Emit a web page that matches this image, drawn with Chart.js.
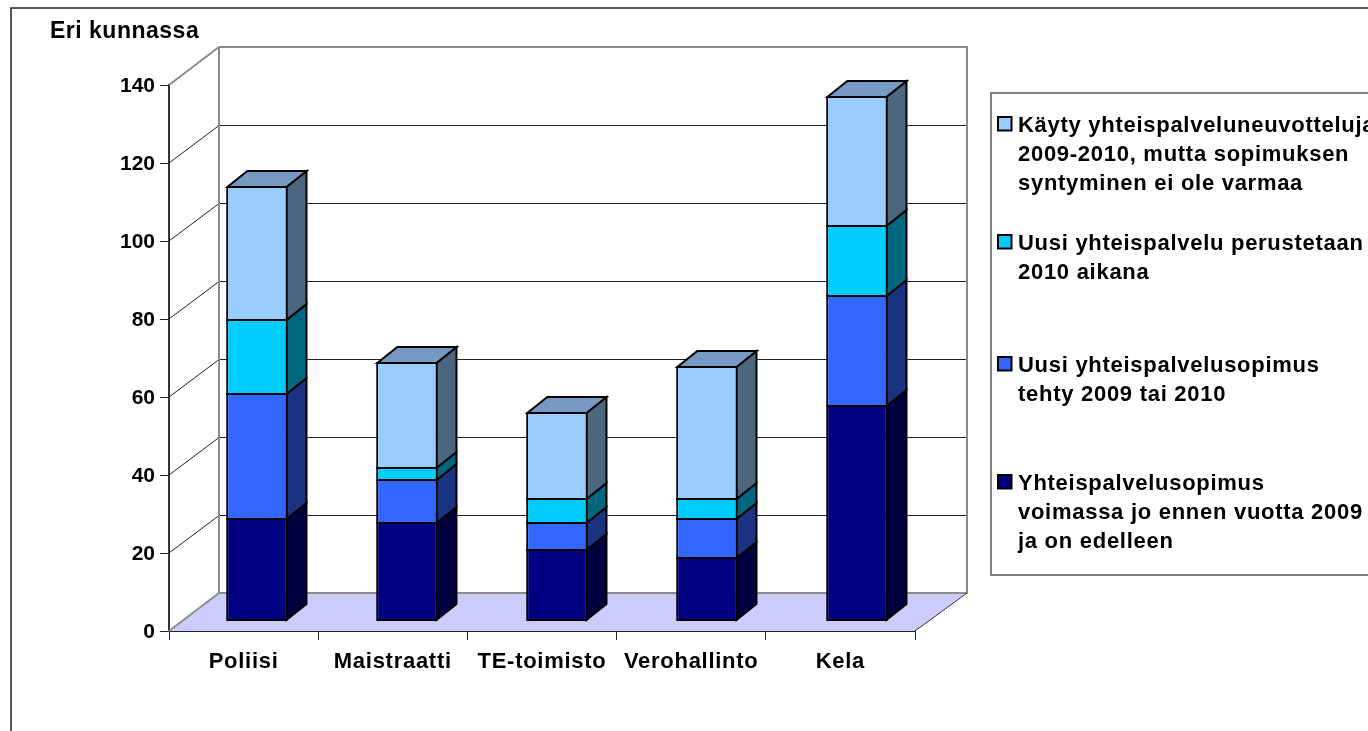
<!DOCTYPE html>
<html lang="fi">
<head>
    <meta charset="UTF-8">
    <title>Eri kunnassa</title>
    <style>
        body { margin: 0; background: #fff; overflow: hidden; }
        canvas { display: block; }
    </style>
</head>
<body>
<canvas id="myChart" width="1368" height="731"></canvas>

<script src="https://cdn.jsdelivr.net/npm/chart.js"></script>
<script>
    var categories = ['Poliisi', 'Maistraatti', 'TE-toimisto', 'Verohallinto', 'Kela'];

    var voimassa = [26, 25, 18, 16, 55];
    var sopimus = [32, 11, 7, 10, 28];
    var perustetaan = [19, 3, 6, 5, 18];
    var neuvottelut = [34, 27, 22, 34, 33];

    var labelVoimassa = ['Yhteispalvelusopimus', 'voimassa jo ennen vuotta 2009', 'ja on edelleen'];
    var labelSopimus = ['Uusi yhteispalvelusopimus', 'tehty 2009 tai 2010'];
    var labelPerustetaan = ['Uusi yhteispalvelu perustetaan', '2010 aikana'];
    var labelNeuvottelut = ['Käyty yhteispalveluneuvotteluja', '2009-2010, mutta sopimuksen', 'syntyminen ei ole varmaa'];

    var yTicks = [0, 20, 40, 60, 80, 100, 120, 140];

    var FONT = '"Liberation Sans", Arial, sans-serif';
    var SPACING = '0.72px';

    // 3D look: how far the back wall and the bars are pushed
    var wallDx = 50, wallDy = -38;
    var barShiftX = 12, barShiftY = -11, barStretch = 1.00536;
    var barDepthX = 20, barDepthY = -16;

    var sideColors = ['#00003F', '#1A3380', '#006680', '#4D6680'];
    var topColor = '#7599C0';

    function poly(ctx, pts, fill, stroke, width) {
        ctx.beginPath();
        ctx.moveTo(pts[0][0], pts[0][1]);
        for (var i = 1; i < pts.length; i++) ctx.lineTo(pts[i][0], pts[i][1]);
        if (fill) {
            ctx.closePath();
            ctx.fillStyle = fill;
            ctx.fill();
        }
        if (stroke) {
            ctx.strokeStyle = stroke;
            ctx.lineWidth = width;
            ctx.stroke();
        }
    }

    // where a bar really lands on screen after the 3D shift
    function barBox(bar) {
        var cx = bar.x * barStretch + barShiftX;
        return {
            l: cx - bar.width / 2 + 1,
            r: cx + bar.width / 2 - 1,
            t: Math.round(bar.y + barShiftY),
            b: Math.round(bar.base + barShiftY)
        };
    }

    var walls = {
        id: 'walls',
        beforeDatasetsDraw: function (chart) {
            var ctx = chart.ctx, a = chart.chartArea, y = chart.scales.y;
            ctx.save();
            // outer frame
            poly(ctx, [[11, 731], [11, 8], [1368, 8]], null, '#222', 1.5);

            // floor
            poly(ctx, [[a.left, a.bottom], [a.left + wallDx, a.bottom + wallDy], [a.right + wallDx + 2, a.bottom + wallDy], [a.right, a.bottom]], '#CCCCFF');

            // gridlines on back and side wall
            yTicks.forEach(function (t) {
                if (t === 0 || t === 140) return;
                var py = Math.round(y.getPixelForValue(t));
                poly(ctx, [[a.left, py], [a.left + wallDx, py + wallDy + 0.5], [a.right + wallDx + 2, py + wallDy + 0.5]], null, '#222', 1);
            });

            // wall edges
            poly(ctx, [[a.left, a.top], [a.left + wallDx, a.top + wallDy], [a.right + wallDx + 2, a.top + wallDy], [a.right + wallDx + 2, a.bottom + wallDy], [a.left + wallDx, a.bottom + wallDy], [a.left, a.bottom]], null, '#8C8C8C', 2);
            poly(ctx, [[a.left + wallDx, a.top + wallDy], [a.left + wallDx, a.bottom + wallDy]], null, '#8C8C8C', 2);
            poly(ctx, [[a.right + wallDx + 2, a.bottom + wallDy], [a.right, a.bottom]], null, '#333', 1);

            // side and top faces of the bars
            chart.data.datasets.forEach(function (ds, d) {
                chart.getDatasetMeta(d).data.forEach(function (bar) {
                    var r = barBox(bar);
                    poly(ctx, [[r.r, r.t], [r.r + barDepthX, r.t + barDepthY], [r.r + barDepthX, r.b + barDepthY], [r.r, r.b]], sideColors[d], '#000', 2);
                    if (d === chart.data.datasets.length - 1) {
                        poly(ctx, [[r.l, r.t], [r.l + barDepthX, r.t + barDepthY], [r.r + barDepthX, r.t + barDepthY], [r.r, r.t]], topColor, '#000', 2);
                    }
                });
            });
            ctx.restore();

            ctx.save();
            ctx.translate(barShiftX, barShiftY);
            ctx.scale(barStretch, 1);
        },
        afterDatasetsDraw: function (chart) {
            var ctx = chart.ctx;
            ctx.restore();
            // crisp lines between the stacked segments
            ctx.save();
            chart.data.datasets.forEach(function (ds, d) {
                chart.getDatasetMeta(d).data.forEach(function (bar) {
                    var r = barBox(bar);
                    poly(ctx, [[r.l - 1, r.t], [r.r + 1, r.t]], null, '#000', 2);
                    poly(ctx, [[r.l - 1, r.b], [r.r + 1, r.b]], null, '#000', 2);
                });
            });
            ctx.restore();
        },
        afterDraw: function (chart) {
            var ctx = chart.ctx;
            ctx.save();
            ctx.fillStyle = '#000';
            ctx.textBaseline = 'alphabetic';
            ctx.letterSpacing = '0.5px';
            ctx.font = 'bold 23px ' + FONT;
            ctx.fillText('Eri kunnassa', 50, 38);

            ctx.letterSpacing = SPACING;
            ctx.font = 'bold 22px ' + FONT;

            // legend, top entry is the top of the stack
            poly(ctx, [[1368, 93], [991, 93], [991, 575], [1368, 575]], null, '#808080', 2);
            var firstBase = [490, 372, 250, 132];
            chart.data.datasets.forEach(function (ds, d) {
                ctx.fillStyle = ds.backgroundColor;
                ctx.strokeStyle = '#000';
                ctx.lineWidth = 2;
                ctx.fillRect(998, firstBase[d] - 15, 13.5, 13.5);
                ctx.strokeRect(998, firstBase[d] - 15, 13.5, 13.5);
                ctx.fillStyle = '#000';
                ds.label.forEach(function (line, i) {
                    ctx.fillText(line, 1018, firstBase[d] + i * 29);
                });
            });
            ctx.restore();
        }
    };

    var ctx = document.getElementById('myChart').getContext('2d');
    var myChart = new Chart(ctx, {
        type: 'bar',
        data: {
            labels: categories,
            datasets: [
                { label: labelVoimassa, data: voimassa, backgroundColor: '#000080' },
                { label: labelSopimus, data: sopimus, backgroundColor: '#3366FF' },
                { label: labelPerustetaan, data: perustetaan, backgroundColor: '#00CCFF' },
                { label: labelNeuvottelut, data: neuvottelut, backgroundColor: '#99CCFF' }
            ]
        },
        plugins: [walls],
        options: {
            responsive: false,
            animation: false,
            layout: { padding: { left: 0, right: 453, top: 85, bottom: 60 } },
            datasets: {
                bar: {
                    borderColor: '#000',
                    borderWidth: { top: 0, bottom: 0, left: 2, right: 2 },
                    borderSkipped: false,
                    barPercentage: 1,
                    categoryPercentage: 0.41,
                    clip: false
                }
            },
            plugins: {
                legend: { display: false },
                tooltip: { enabled: false }
            },
            scales: {
                x: {
                    stacked: true,
                    afterFit: function (s) {
                        s.height = 40;
                        // category names are spaced wider than the numbers
                        var draw = Object.getPrototypeOf(s).drawLabels;
                        s.drawLabels = function (area) {
                            s.ctx.letterSpacing = SPACING;
                            draw.call(s, area);
                            s.ctx.letterSpacing = '0px';
                        };
                    },
                    border: { color: '#222', width: 2 },
                    grid: { drawOnChartArea: false, color: '#222', tickLength: 9 },
                    ticks: { color: '#000', padding: 9, maxRotation: 0, autoSkip: false, font: { family: FONT, size: 22, weight: 'bold' } }
                },
                y: {
                    stacked: true,
                    min: 0,
                    max: 140,
                    afterFit: function (s) {
                        s.width = 169;
                        var draw = Object.getPrototypeOf(s).drawLabels;
                        s.drawLabels = function (area) {
                            s.ctx.save();
                            s.ctx.translate(0, 1.5);
                            draw.call(s, area);
                            s.ctx.restore();
                        };
                    },
                    afterBuildTicks: function (s) {
                        s.ticks = yTicks.map(function (v) { return { value: v }; });
                    },
                    border: { color: '#333', width: 2 },
                    grid: { drawOnChartArea: false, color: '#222', tickLength: 9 },
                    ticks: { color: '#000', padding: 5, font: { family: FONT, size: 21, weight: 'bold' } }
                }
            }
        }
    });
</script>
</body>
</html>
